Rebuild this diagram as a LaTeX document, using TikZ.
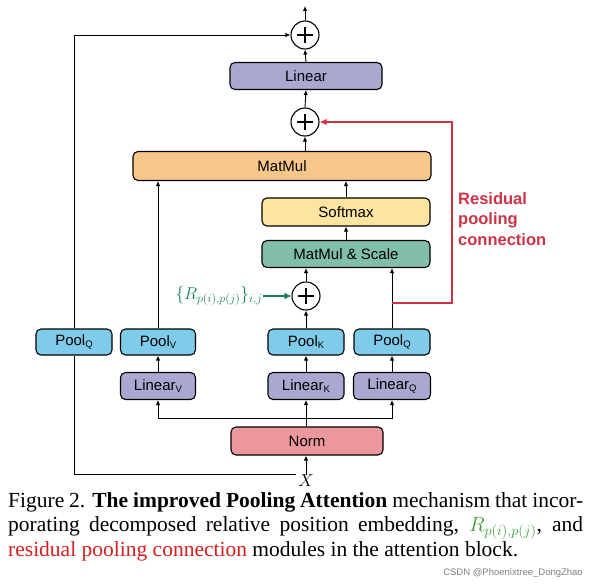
\documentclass[tikz,border=0pt]{standalone}
\usepackage{fontspec}
\setmainfont{Liberation Serif}
\setsansfont{Liberation Sans}
\usetikzlibrary{arrows.meta,calc}
\definecolor{clin}{RGB}{169,168,209}
\definecolor{cmat}{RGB}{247,198,138}
\definecolor{csoft}{RGB}{253,228,160}
\definecolor{cmms}{RGB}{128,190,168}
\definecolor{cpool}{RGB}{126,203,234}
\definecolor{cnorm}{RGB}{236,151,157}
\definecolor{cred}{RGB}{204,52,70}
\definecolor{cgreen}{RGB}{26,128,96}
\definecolor{capgreen}{RGB}{60,160,60}
\definecolor{capred}{RGB}{215,30,30}
\newcommand\lsub[1]{{\fontsize{9.5}{9.5}\selectfont\raisebox{-1.5pt}{#1}}}
\begin{document}
\begin{tikzpicture}[x=1pt,y=-1pt,
  box/.style={draw=black, line width=1.1pt, rounded corners=5pt, font=\sffamily\fontsize{15}{16}\selectfont, inner sep=0pt},
  arr/.style={-{Latex[length=5pt,width=4.5pt]}, line width=0.9pt},
  plus/.style={circle, draw, line width=1.1pt, minimum size=28pt, inner sep=0pt}]
\useasboundingbox[fill=white] (0,0) rectangle (589,588);

% plus nodes
\node[plus] (p1) at (305,35) {};
\node[plus] (p2) at (305,122) {};
\node[plus] (p3) at (306,296) {};
\foreach \p in {p1,p2,p3}{
  \draw[line width=1.5pt] ($(\p)+(-8,0)$) -- ($(\p)+(8,0)$);
  \draw[line width=1.5pt] ($(\p)+(0,-8)$) -- ($(\p)+(0,8)$);
}
\coordinate (out) at (305,6);

% boxes
\node[box, fill=clin, minimum width=152pt, minimum height=27pt] (lin) at (306,76) {Linear};
\node[box, fill=cmat, minimum width=298pt, minimum height=29pt] (mat) at (282,166) {MatMul};
\node[box, fill=csoft, minimum width=168pt, minimum height=28pt] (soft) at (346,212) {Softmax};
\node[box, fill=cmms, minimum width=168pt, minimum height=27pt] (mms) at (346,254) {MatMul \& Scale};

\node[box, fill=cpool, minimum width=76pt, minimum height=26pt] (pqa) at (74,342) {Pool\lsub{Q}};
\node[box, fill=cpool, minimum width=75pt, minimum height=26pt] (pv) at (158,342) {Pool\lsub{V}};
\node[box, fill=cpool, minimum width=76pt, minimum height=26pt] (pk) at (306,342) {Pool\lsub{K}};
\node[box, fill=cpool, minimum width=76pt, minimum height=26pt] (pqb) at (392,342) {Pool\lsub{Q}};

\node[box, fill=clin, minimum width=75pt, minimum height=27pt] (lv) at (158,386) {Linear\lsub{V}};
\node[box, fill=clin, minimum width=76pt, minimum height=27pt] (lk) at (306,386) {Linear\lsub{K}};
\node[box, fill=clin, minimum width=77pt, minimum height=27pt] (lq) at (392,386) {Linear\lsub{Q}};

\node[box, fill=cnorm, minimum width=152pt, minimum height=28pt] (norm) at (307,441) {Norm};

\node[inner sep=0pt, font=\fontsize{19}{19}\selectfont] (X) at (306,481) {$X$};

% top part arrows
\draw[arr] (p1.north) -- (out);
\draw[arr] (lin.north) -- (p1.south);
\draw[arr] (p2.north) -- (lin.south);
\draw[arr] (p2.south |- mat.north) -- (p2.south);
\draw[arr] (soft.north) -- (soft.north |- mat.south);
\draw[arr] (mms.north) -- (soft.south);
\draw[arr] (p3.north) -- (p3.north |- mms.south);
\draw[arr] (pqb.north) -- (pqb.north |- mms.south);
\draw[arr] (pk.north) -- (p3.south);
\draw[arr] (pv.north) -- (pv.north |- mat.south);

% linear to pool
\draw[arr] (lv.north) -- (pv.south);
\draw[arr] (lk.north) -- (pk.south);
\draw[arr] (lq.north) -- (pqb.south);

% norm branch
\coordinate (br) at (306,418);
\draw[arr] (norm.north -| lk) -- (lk.south);
\draw[arr] (br) -| (lv.south);
\draw[arr] (br) -| (lq.south);

% X
\draw[arr] (X.north) -- (X.north |- norm.south);
\coordinate (xl) at (296,474);
\draw[line width=0.9pt] (xl) -| (pqa.south);
\draw[arr] (pqa.north) |- (p1.west);

% residual
\coordinate (rj) at (392,303);
\coordinate (rc) at (452,122);
\draw[cred, line width=1.7pt, -{Latex[length=7pt,width=6.5pt]}] (rj) -| (rc) -- (p2.east);
\node[anchor=north west, align=left, text=cred, font=\sffamily\bfseries\fontsize{16.5}{20.5}\selectfont, inner sep=0pt] (rlab) at (458,192) {Residual\\pooling\\connection};

% relative position
\node[text=cgreen, inner sep=0pt, font=\fontsize{16.5}{16.5}\selectfont] (rpe) at (219,296) {$\{R_{p(i),p(j)}\}_{i,j}$};
\draw[cgreen, line width=2.2pt, -{Latex[length=7pt,width=7pt]}] (rpe.east) -- (p3.west);

% caption
\node[anchor=north west, inner sep=0pt, text width=575pt, align=justify, font=\fontsize{21.5}{24.5}\selectfont] (cap) at (8,492) {Figure 2. \textbf{The improved Pooling Attention} mechanism that incor-\linebreak porating decomposed relative position embedding, \textcolor{capgreen}{$R_{p(i),p(j)}$}, and\linebreak \textcolor{capred}{residual pooling connection} modules in the attention block.};
\node[anchor=east, inner sep=0pt, text=gray, font=\sffamily\fontsize{9.5}{10}\selectfont] (wm) at (583,573) {CSDN @Phoenixtree\_DongZhao};
\end{tikzpicture}
\end{document}
